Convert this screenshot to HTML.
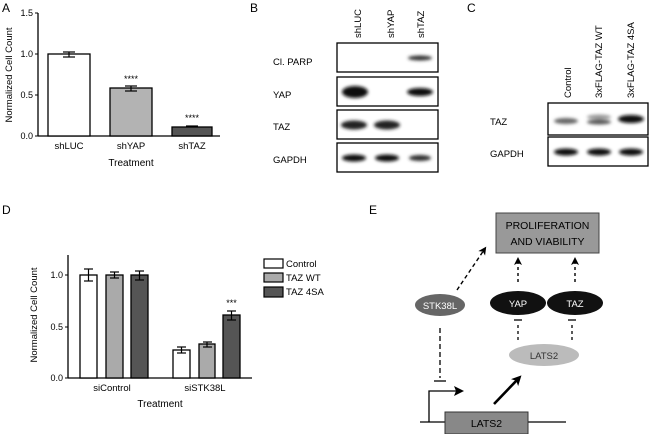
<!DOCTYPE html>
<html><head><meta charset="utf-8"><style>
html,body{margin:0;padding:0;background:#fff;}
svg{display:block;font-family:"Liberation Sans",Arial,sans-serif;}
</style></head><body>
<svg width="650" height="434" viewBox="0 0 650 434" xmlns="http://www.w3.org/2000/svg">
<defs>
<filter id="b" x="-30%" y="-100%" width="160%" height="300%"><feGaussianBlur stdDeviation="1.6"/></filter>
<marker id="ah" markerWidth="8" markerHeight="8" refX="4" refY="4" orient="auto" markerUnits="userSpaceOnUse"><path d="M0,0 L8,4 L0,8 L2,4 z" fill="#000"/></marker>
<marker id="ah2" markerWidth="10" markerHeight="10" refX="5" refY="5" orient="auto" markerUnits="userSpaceOnUse"><path d="M0,0 L10,5 L0,10 L2.5,5 z" fill="#000"/></marker>
</defs>
<g font-size="9.5" fill="#000">
<!-- Panel A -->
<text x="2" y="12" font-size="12">A</text>
<line x1="38" y1="13" x2="38" y2="136" stroke="#000" stroke-width="1.3"/>
<line x1="38" y1="136" x2="220" y2="136" stroke="#000" stroke-width="1.3"/>
<g stroke="#000" stroke-width="1"><line x1="35" y1="13" x2="38" y2="13"/><line x1="35" y1="54" x2="38" y2="54"/><line x1="35" y1="95" x2="38" y2="95"/><line x1="35" y1="136" x2="38" y2="136"/></g>
<g text-anchor="end" font-size="9"><text x="33" y="16">1.5</text><text x="33" y="57">1.0</text><text x="33" y="98">0.5</text><text x="33" y="139">0.0</text></g>
<text transform="translate(12,75) rotate(-90)" text-anchor="middle" font-size="9.5">Normalized Cell Count</text>
<rect x="48" y="54" width="42" height="82" fill="#fff" stroke="#000" stroke-width="1.3"/>
<rect x="110" y="88" width="42" height="48" fill="#b3b3b3" stroke="#000" stroke-width="1.3"/>
<rect x="172" y="127" width="40" height="9" fill="#555" stroke="#000" stroke-width="1.3"/>
<g stroke="#000" stroke-width="1.2"><line x1="63" y1="52" x2="75" y2="52"/><line x1="63" y1="57" x2="75" y2="57"/><line x1="69" y1="52" x2="69" y2="57"/>
<line x1="125" y1="86" x2="137" y2="86"/><line x1="125" y1="91" x2="137" y2="91"/><line x1="131" y1="86" x2="131" y2="91"/>
<line x1="186" y1="126" x2="198" y2="126"/></g>
<text x="131" y="82" text-anchor="middle" font-size="9">****</text>
<text x="192" y="121" text-anchor="middle" font-size="9">****</text>
<g text-anchor="middle"><text x="69" y="149">shLUC</text><text x="131" y="149">shYAP</text><text x="192" y="149">shTAZ</text></g>
<text x="131" y="166" text-anchor="middle" font-size="10">Treatment</text>

<!-- Panel B -->
<text x="250" y="12" font-size="12">B</text>
<g font-size="9.5"><text x="273" y="65">Cl. PARP</text><text x="273" y="98">YAP</text><text x="273" y="130">TAZ</text><text x="273" y="163">GAPDH</text></g>
<g font-size="9.5"><text transform="translate(361,38) rotate(-90)">shLUC</text><text transform="translate(394,38) rotate(-90)">shYAP</text><text transform="translate(424,38) rotate(-90)">shTAZ</text></g>
<g stroke="#000" stroke-width="1.3" fill="#fff">
<rect x="337" y="43" width="101" height="29"/><rect x="337" y="77" width="101" height="29"/><rect x="337" y="110" width="101" height="29"/><rect x="337" y="143" width="101" height="29"/></g>
<g filter="url(#b)" fill="#111">
<ellipse cx="420" cy="58" rx="12" ry="2.5" fill="#333"/>
<ellipse cx="355" cy="92" rx="13" ry="6"/><ellipse cx="420" cy="92" rx="13" ry="4"/>
<ellipse cx="354" cy="125" rx="13" ry="4.5" fill="#222"/><ellipse cx="387" cy="125" rx="13" ry="4.5" fill="#222"/>
<ellipse cx="354" cy="158" rx="12" ry="3.5"/><ellipse cx="387" cy="158" rx="12" ry="3.5"/><ellipse cx="420" cy="158" rx="11" ry="3" fill="#333"/>
</g>

<!-- Panel C -->
<text x="467" y="12" font-size="12">C</text>
<g font-size="9.5"><text x="490" y="125">TAZ</text><text x="490" y="157">GAPDH</text></g>
<g font-size="9.5"><text transform="translate(571,98) rotate(-90)">Control</text><text transform="translate(602,98) rotate(-90)">3xFLAG-TAZ WT</text><text transform="translate(634,98) rotate(-90)">3xFLAG-TAZ 4SA</text></g>
<g stroke="#000" stroke-width="1.3" fill="#fff"><rect x="548" y="103" width="100" height="32"/><rect x="548" y="137" width="100" height="29"/></g>
<g filter="url(#b)">
<ellipse cx="566" cy="121" rx="12" ry="3" fill="#666"/>
<ellipse cx="599" cy="117" rx="12" ry="2.5" fill="#999"/><ellipse cx="599" cy="122" rx="12" ry="2.5" fill="#555"/>
<ellipse cx="631" cy="119" rx="13" ry="4" fill="#111"/>
<ellipse cx="566" cy="152" rx="12" ry="3.5" fill="#111"/><ellipse cx="599" cy="152" rx="12" ry="3.5" fill="#111"/><ellipse cx="631" cy="152" rx="12" ry="3.5" fill="#111"/>
</g>

<!-- Panel D -->
<text x="2" y="214" font-size="12">D</text>
<line x1="68" y1="255" x2="68" y2="378" stroke="#000" stroke-width="1.3"/>
<line x1="68" y1="378" x2="252" y2="378" stroke="#000" stroke-width="1.3"/>
<g stroke="#000"><line x1="65" y1="275" x2="68" y2="275"/><line x1="65" y1="327" x2="68" y2="327"/><line x1="65" y1="378" x2="68" y2="378"/></g>
<g text-anchor="end" font-size="9"><text x="63" y="278">1.0</text><text x="63" y="330">0.5</text><text x="63" y="381">0.0</text></g>
<text transform="translate(37,315) rotate(-90)" text-anchor="middle" font-size="9.5">Normalized Cell Count</text>
<g stroke="#000" stroke-width="1.3">
<rect x="80" y="275" width="17" height="103" fill="#fff"/><rect x="106" y="275" width="17" height="103" fill="#aaa"/><rect x="131" y="275" width="17" height="103" fill="#555"/>
<rect x="173" y="350" width="17" height="28" fill="#fff"/><rect x="199" y="344" width="16" height="34" fill="#aaa"/><rect x="223" y="315" width="17" height="63" fill="#555"/>
</g>
<g stroke="#000" stroke-width="1.2">
<line x1="84" y1="269" x2="93" y2="269"/><line x1="84" y1="281" x2="93" y2="281"/><line x1="88.5" y1="269" x2="88.5" y2="281"/>
<line x1="110" y1="272" x2="119" y2="272"/><line x1="110" y1="278" x2="119" y2="278"/><line x1="114.5" y1="272" x2="114.5" y2="278"/>
<line x1="135" y1="271" x2="144" y2="271"/><line x1="135" y1="280" x2="144" y2="280"/><line x1="139.5" y1="271" x2="139.5" y2="280"/>
<line x1="177" y1="347" x2="186" y2="347"/><line x1="177" y1="353" x2="186" y2="353"/><line x1="181.5" y1="347" x2="181.5" y2="353"/>
<line x1="203" y1="342" x2="212" y2="342"/><line x1="203" y1="347" x2="212" y2="347"/><line x1="207" y1="342" x2="207" y2="347"/>
<line x1="227" y1="311" x2="236" y2="311"/><line x1="227" y1="320" x2="236" y2="320"/><line x1="231.5" y1="311" x2="231.5" y2="320"/>
</g>
<text x="231.5" y="306" text-anchor="middle" font-size="9">***</text>
<g text-anchor="middle"><text x="112" y="391">siControl</text><text x="205" y="391">siSTK38L</text></g>
<text x="160" y="407" text-anchor="middle" font-size="10">Treatment</text>
<g stroke="#000" stroke-width="1.2"><rect x="264" y="259" width="19" height="9" fill="#fff"/><rect x="264" y="273" width="19" height="9" fill="#aaa"/><rect x="264" y="287" width="19" height="10" fill="#555"/></g>
<g font-size="9.5"><text x="286" y="267">Control</text><text x="286" y="281">TAZ WT</text><text x="286" y="295">TAZ 4SA</text></g>

<!-- Panel E -->
<text x="369" y="214" font-size="12">E</text>
<rect x="496" y="213" width="103" height="40" fill="#999" stroke="#444" stroke-width="1"/>
<text x="547.5" y="229" text-anchor="middle" font-size="10.5">PROLIFERATION</text>
<text x="547.5" y="245" text-anchor="middle" font-size="10.5">AND VIABILITY</text>
<line x1="457" y1="290" x2="484" y2="250" stroke="#000" stroke-width="1.4" stroke-dasharray="4,3" marker-end="url(#ah)"/>
<line x1="518" y1="282" x2="518" y2="261" stroke="#000" stroke-width="1.4" stroke-dasharray="3,3" marker-end="url(#ah)"/>
<line x1="575" y1="282" x2="575" y2="261" stroke="#000" stroke-width="1.4" stroke-dasharray="3,3" marker-end="url(#ah)"/>
<ellipse cx="440" cy="305" rx="25" ry="11" fill="#666"/>
<text x="440" y="309" text-anchor="middle" font-size="9.5" fill="#fff">STK38L</text>
<ellipse cx="518" cy="303" rx="28" ry="12" fill="#111"/>
<text x="518" y="307" text-anchor="middle" font-size="9.5" fill="#fff">YAP</text>
<ellipse cx="575" cy="303" rx="28" ry="12" fill="#111"/>
<text x="575" y="307" text-anchor="middle" font-size="9.5" fill="#fff">TAZ</text>
<g stroke="#000" stroke-width="1.3">
<line x1="518" y1="340" x2="518" y2="322" stroke-dasharray="3,3"/><line x1="514" y1="320" x2="522" y2="320"/>
<line x1="572" y1="340" x2="572" y2="322" stroke-dasharray="3,3"/><line x1="568" y1="320" x2="576" y2="320"/>
<line x1="440" y1="328" x2="440" y2="378" stroke-dasharray="5,3"/><line x1="434" y1="381" x2="446" y2="381"/>
</g>
<ellipse cx="544" cy="355" rx="35" ry="11" fill="#bbb"/>
<text x="544" y="359" text-anchor="middle" font-size="9.5" fill="#333">LATS2</text>
<line x1="420" y1="422" x2="566" y2="422" stroke="#000" stroke-width="1.2"/>
<path d="M429,422 L429,391 L456,391" fill="none" stroke="#000" stroke-width="1.3"/>
<path d="M454,386 L464,391 L454,396 L456,391 z" fill="#000"/>
<line x1="494" y1="404" x2="518" y2="379" stroke="#000" stroke-width="2.6" marker-end="url(#ah2)"/>
<rect x="445" y="412" width="83" height="22" fill="#888" stroke="#333" stroke-width="1"/>
<text x="486.5" y="427" text-anchor="middle" font-size="10.5">LATS2</text>
</g>
</svg>
</body></html>
